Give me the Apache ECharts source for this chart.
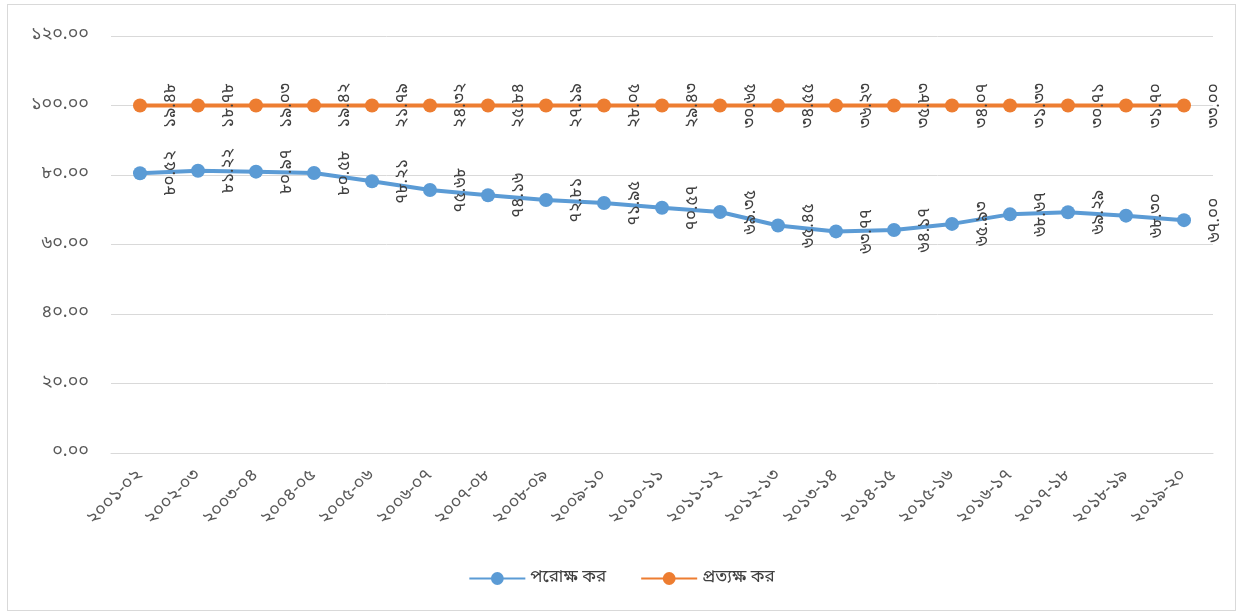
<!DOCTYPE html>
<html>
<head>
<meta charset="utf-8">
<script src="https://cdn.jsdelivr.net/npm/echarts@6/dist/echarts.min.js"></script>
<style>
  html, body { margin: 0; padding: 0; background: #fff; }
  #frame { position: absolute; left: 7px; top: 4px; width: 1229px; height: 607px; border: 1px solid #d9d9d9; box-sizing: border-box; }
  #chart { position: absolute; left: 0; top: 0; width: 1243px; height: 616px; }
</style>
</head>
<body>
<div id="frame"></div>
<div id="chart"></div>
<script>
// Fiscal years
const years = ['2001-02','2002-03','2003-04','2004-05','2005-06','2006-07','2007-08','2008-09','2009-10','2010-11',
  '2011-12','2012-13','2013-14','2014-15','2015-16','2016-17','2017-18','2018-19','2019-20'];
// Share of indirect tax (%)
const indirectTax = [80.52, 81.22, 80.97, 80.58, 78.21, 75.68, 74.16, 72.81, 71.95, 70.57,
  69.35, 65.45, 63.77, 64.17, 65.93, 68.67, 69.29, 68.30, 67.00];
// Share of direct tax (%)
const directTax = [19.48, 18.78, 19.03, 19.42, 21.79, 24.32, 25.84, 27.19, 28.05, 29.43,
  30.65, 34.55, 36.23, 35.83, 34.07, 31.33, 30.71, 31.70, 33.00];
const seriesNames = ['পরোক্ষ কর', 'প্রত্যক্ষ কর'];

const bnDigits = ['০','১','২','৩','৪','৫','৬','৭','৮','৯'];
const toBn = s => String(s).replace(/[0-9]/g, d => bnDigits[+d]);

const FONT = '"Noto Sans Bengali", "Noto Sans", sans-serif';

const chart = echarts.init(document.getElementById('chart'));
const labelCfg = {
  show: true,
  position: 'inside',
  offset: [0, 32],
  rotate: 90,
  align: 'center',
  verticalAlign: 'middle',
  color: '#404040',
  fontSize: 17,
  fontFamily: FONT,
  formatter: p => toBn(p.value.toFixed(2))
};
chart.setOption({
  animation: false,
  textStyle: { fontFamily: FONT },
  grid: { left: 111, right: 30, top: 36, bottom: 163, containLabel: false },
  legend: {
    bottom: 24,
    left: 'center',
    itemWidth: 56,
    itemHeight: 16,
    itemGap: 34,
    textStyle: { color: '#404040', fontSize: 17, fontFamily: FONT },
    data: seriesNames
  },
  xAxis: {
    type: 'category',
    data: years,
    boundaryGap: true,
    axisLine: { lineStyle: { color: '#d9d9d9' } },
    axisTick: { show: false },
    axisLabel: { rotate: 45, color: '#595959', fontSize: 18, fontFamily: FONT, margin: 20,
      formatter: v => toBn(v) }
  },
  yAxis: {
    type: 'value',
    min: 0, max: 120, interval: 20,
    axisLine: { show: false },
    axisTick: { show: false },
    splitLine: { lineStyle: { color: '#d9d9d9' } },
    axisLabel: { color: '#595959', fontSize: 18, fontFamily: FONT, margin: 22,
      formatter: v => toBn(v.toFixed(2)) }
  },
  series: [
    {
      name: seriesNames[0], type: 'line', stack: 'total', data: indirectTax,
      color: '#5B9BD5', symbol: 'circle', symbolSize: 14,
      lineStyle: { width: 4, color: '#5B9BD5' }, itemStyle: { color: '#5B9BD5' },
      label: labelCfg
    },
    {
      name: seriesNames[1], type: 'line', stack: 'total', data: directTax,
      color: '#ED7D31', symbol: 'circle', symbolSize: 14,
      lineStyle: { width: 4, color: '#ED7D31' }, itemStyle: { color: '#ED7D31' },
      label: labelCfg
    }
  ]
});
</script>
</body>
</html>
